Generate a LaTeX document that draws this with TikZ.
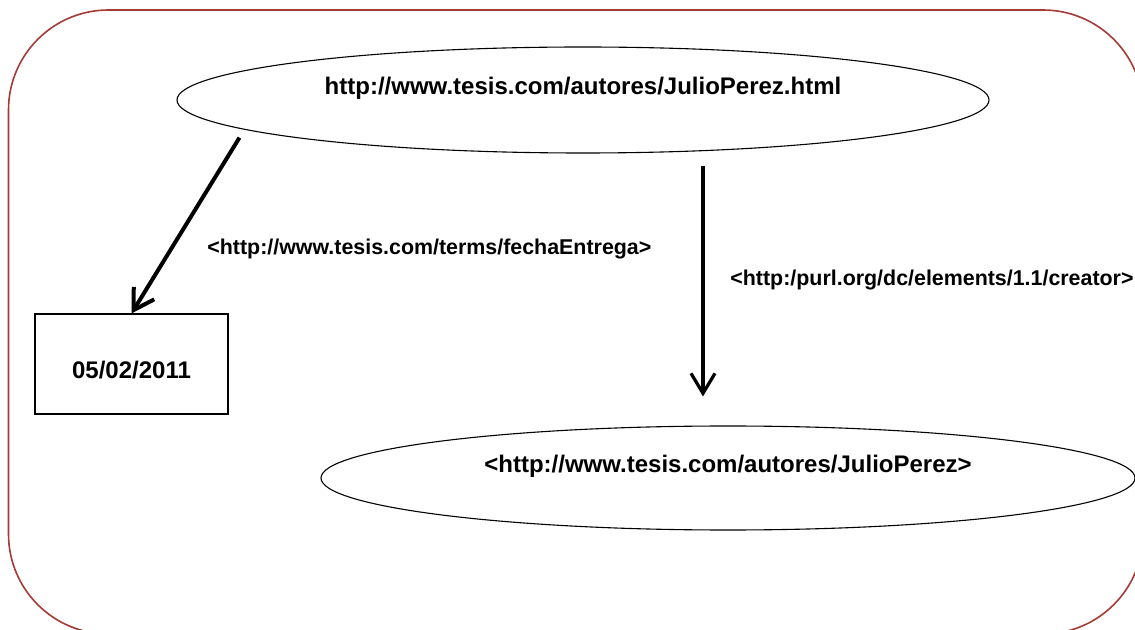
\documentclass[tikz,border=0pt]{standalone}
\usepackage{fontspec}
\setmainfont{Liberation Sans}
\usetikzlibrary{shapes.geometric,arrows.meta}
\definecolor{framered}{RGB}{165,58,54}
\begin{document}
\begin{tikzpicture}[x=0.5pt,y=-0.5pt,
  every node/.style={font=\fontsize{12}{14}\selectfont\bfseries, inner sep=0pt},
  resource/.style={ellipse, draw, line width=0.55pt, text height=9pt, text depth=14pt},
  literal/.style={rectangle, draw, line width=0.55pt, minimum width=96.5pt, minimum height=50pt,
                  text height=15pt, text depth=0pt},
  prop/.style={anchor=base west, font=\fontsize{10.7}{13}\selectfont\bfseries},
  link/.style={draw, -{Straight Barb[length=10pt,width=12pt]}}
]
\useasboundingbox (0,0) rectangle (1135,630);

% outer rounded frame
\draw[framered, line width=0.8pt, rounded corners=50pt] (8.5,10) rectangle (1143,634);

% resources and literal
\node[resource, minimum width=406pt, minimum height=53pt] (doc) at (583,100)
  {http://www.tesis.com/autores/JulioPerez.html};
\node[resource, minimum width=407pt, minimum height=52pt] (author) at (728,478)
  {<http://www.tesis.com/autores/JulioPerez>};
\node[literal] (date) at (131.5,364) {05/02/2011};

% property labels
\node[prop] (pdate) at (207,255) {<http://www.tesis.com/terms/fechaEntrega>};
\node[prop] (pcreator) at (730,286) {<http:/purl.org/dc/elements/1.1/creator>};

% statements
\draw[link, line width=2pt, shorten <=4.7pt] (doc.185.1) -- (date.north);
\draw[link, line width=1.6pt, shorten <=6pt, shorten >=14.5pt]
  ([xshift=60pt]doc.south) -- ([xshift=-12.5pt]author.north);
\end{tikzpicture}
\end{document}
